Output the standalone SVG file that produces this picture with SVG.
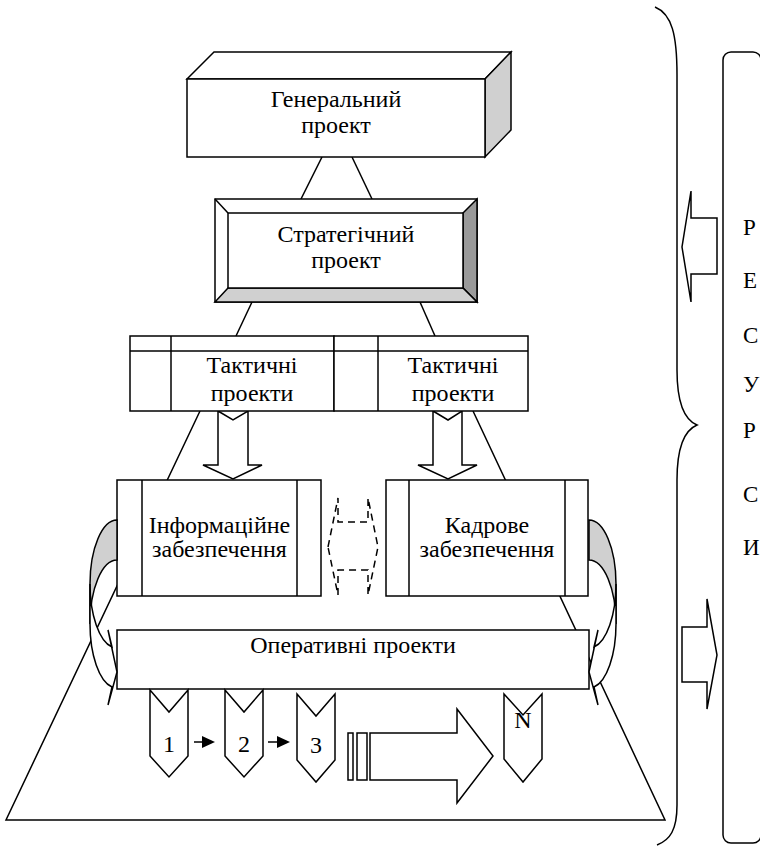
<svg xmlns="http://www.w3.org/2000/svg" width="760" height="847" viewBox="0 0 760 847">
<style>
.s{fill:#fff;stroke:#000;stroke-width:1.5;stroke-linejoin:miter}
.l{fill:none;stroke:#000;stroke-width:1.5}
.g{fill:#d0d0d0;stroke:#000;stroke-width:1.5}
.t{font-family:"Liberation Serif","DejaVu Serif",serif;font-size:24px;fill:#000;text-anchor:middle}
.r{font-family:"Liberation Serif","DejaVu Serif",serif;font-size:23px;fill:#000}
.d{fill:none;stroke:#000;stroke-width:1.5;stroke-dasharray:7 5}
</style>
<rect width="760" height="847" fill="#fff"/>
<g id="connectors">
  <line class="l" x1="322" y1="157" x2="301" y2="199"/>
  <line class="l" x1="352" y1="157" x2="372" y2="199"/>
  <line class="l" x1="252" y1="302" x2="236" y2="336"/>
  <line class="l" x1="420" y1="302" x2="435" y2="336"/>
  <path class="l" d="M200,411 L6,820 L665,820 L473,411"/>
  <polygon class="s" points="218,411 233,420 248,411 248,465 262,465 233,479 203,465 218,465"/>
  <polygon class="s" points="433,411 448,420 462,411 462,465 477,465 448,479 418,465 433,465"/>
  <path class="d" d="M328,547 L338,498 L338,522 L368,522 L368,498 L378,547 L368,595 L368,570 L338,570 L338,595 Z"/>
  <line class="l" x1="194" y1="742" x2="204" y2="742"/>
  <polygon points="202,736 215,742 202,748" fill="#000"/>
  <line class="l" x1="268" y1="742" x2="278" y2="742"/>
  <polygon points="277,736 290,742 277,748" fill="#000"/>
  <rect class="s" x="348" y="733" width="5" height="47"/>
  <rect class="s" x="357" y="733" width="10" height="47"/>
  <polygon class="s" points="370,733 457,733 457,709 493,756 457,803 457,780 370,780"/>
  <polygon class="s" points="717,218 691,218 691,191 682,247 691,302 691,274 717,274"/>
  <polygon class="s" points="682,627 707,627 707,599 717,655 707,709 707,682 682,682"/>
  <path class="l" d="M655,7 C672,14 677,35 677,75 L677,370 C677,405 685,420 697,425 C685,430 677,445 677,480 L677,805 C677,830 670,840 657,845"/>
</g>
<g id="general">
  <polygon class="s" points="187,79 214,52 511,52 485,79"/>
  <polygon class="g" points="485,79 511,52 511,130 485,157"/>
  <rect class="s" x="187" y="79" width="298" height="78"/>
  <text class="t" x="336" y="107">Генеральний</text>
  <text class="t" x="336" y="133">проект</text>
</g>
<g id="strategic">
  <rect class="s" x="215" y="199" width="262" height="103"/>
  <polygon fill="#9a9a9a" stroke="#000" stroke-width="1.5" points="463,213 477,199 477,302 463,288"/>
  <polygon class="g" points="228,288 463,288 477,302 215,302"/>
  <line class="l" x1="215" y1="199" x2="228" y2="213"/>
  <rect class="s" x="228" y="213" width="235" height="75"/>
  <text class="t" x="346" y="242">Стратегічний</text>
  <text class="t" x="346" y="268">проект</text>
</g>
<g id="tactical1">
  <rect class="s" x="130" y="336" width="204" height="75"/>
  <line class="l" x1="130" y1="351" x2="334" y2="351"/>
  <line class="l" x1="171" y1="336" x2="171" y2="411"/>
  <text class="t" x="252" y="373">Тактичні</text>
  <text class="t" x="252" y="401">проекти</text>
</g>
<g id="tactical2">
  <rect class="s" x="334" y="336" width="194" height="75"/>
  <line class="l" x1="334" y1="351" x2="528" y2="351"/>
  <line class="l" x1="378" y1="336" x2="378" y2="411"/>
  <text class="t" x="453" y="373">Тактичні</text>
  <text class="t" x="453" y="401">проекти</text>
</g>
<g id="info">
  <rect class="s" x="117" y="480" width="204" height="116"/>
  <line class="l" x1="142" y1="480" x2="142" y2="596"/>
  <line class="l" x1="297" y1="480" x2="297" y2="596"/>
  <text class="t" x="219.5" y="533">Інформаційне</text>
  <text class="t" x="219.5" y="557">забезпечення</text>
</g>
<g id="staff">
  <rect class="s" x="386" y="480" width="202" height="116"/>
  <line class="l" x1="409" y1="480" x2="409" y2="596"/>
  <line class="l" x1="565" y1="480" x2="565" y2="596"/>
  <text class="t" x="487" y="533">Кадрове</text>
  <text class="t" x="487" y="557">забезпечення</text>
</g>
<g id="operational">
  <rect class="s" x="117" y="630" width="472" height="59"/>
  <text class="t" x="353" y="653">Оперативні проекти</text>
</g>
<g id="loop-left">
  <path class="g" d="M117,520 A27,64 0 0 0 90,584 L90,624 A27,64 0 0 1 117,560 Z"/>
  <path class="s" d="M90,584 A27,64 0 0 0 112,647 L108,630 L117,672 L108,705 L112,687 A27,64 0 0 1 90,624 Z"/>
</g>
<g id="loop-right" transform="translate(706,0) scale(-1,1)">
  <path class="g" d="M117,520 A27,64 0 0 0 90,584 L90,624 A27,64 0 0 1 117,560 Z"/>
  <path class="s" d="M90,584 A27,64 0 0 0 112,647 L108,630 L117,672 L108,705 L112,687 A27,64 0 0 1 90,624 Z"/>
</g>
<g id="step1">
  <polygon class="s" points="150,690 169,712 188,690 188,756 169,777 150,756"/>
  <text class="t" x="169" y="752">1</text>
</g>
<g id="step2">
  <polygon class="s" points="225,690 244,712 263,690 263,756 244,777 225,756"/>
  <text class="t" x="244" y="752">2</text>
</g>
<g id="step3">
  <polygon class="s" points="297,694 316,716 335,694 335,760 316,782 297,760"/>
  <text class="t" x="316" y="753">3</text>
</g>
<g id="stepN">
  <polygon class="s" points="504,694 523,715 542,694 542,759 523,782 504,759"/>
  <text class="t" x="523" y="728">N</text>
</g>
<g id="resources">
  <rect class="l" x="723" y="52" width="38" height="791" rx="8"/>
  <text class="r" x="743" y="235">Р</text>
  <text class="r" x="743" y="288">Е</text>
  <text class="r" x="743" y="343">С</text>
  <text class="r" x="743" y="392">У</text>
  <text class="r" x="743" y="438">Р</text>
  <text class="r" x="743" y="502">С</text>
  <text class="r" x="743" y="555">И</text>
</g>
</svg>
